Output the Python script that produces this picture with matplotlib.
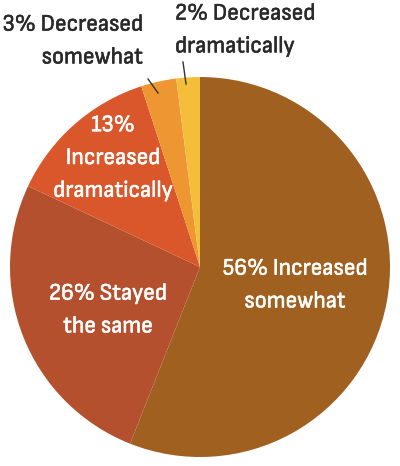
import matplotlib
matplotlib.use("Agg")
import matplotlib.pyplot as plt
import matplotlib.patheffects as pe

categories = ["Increased somewhat", "Stayed the same", "Increased dramatically",
              "Decreased somewhat", "Decreased dramatically"]
values = [56, 26, 13, 3, 2]
colors = ["#A0601F", "#B5502E", "#D9572B", "#EE9631", "#F5BE3A"]

plt.rcParams['font.family'] = ['Sofia Sans Semi Condensed', 'DejaVu Sans']

H = 466
fig = plt.figure(figsize=(4, 4.66), dpi=100)
ax = fig.add_axes([0, 0, 1, 1])

ax.pie(values, colors=colors, startangle=90, counterclock=False,
       center=(200, H - 267), radius=190, frame=True,
       wedgeprops=dict(linewidth=0))
ax.set_xlim(0, 400)
ax.set_ylim(0, H)
ax.axis('off')

fs = 17
def txt(x, y, s, color='white', ha='center'):
    ax.text(x, H - y, s, color=color, ha=ha, va='center', fontsize=fs,
            linespacing=1.8,
            path_effects=[pe.withStroke(linewidth=0.4, foreground=color)])

txt(295, 285, f"{values[0]}% Increased\nsomewhat")
txt(108, 310, f"{values[1]}% Stayed\nthe same")
txt(113, 158, f"{values[2]}%\nIncreased\ndramatically")
txt(143, 41, f"{values[3]}% Decreased\nsomewhat", color='#2a2a2a', ha='right')
txt(175, 30, f"{values[4]}% Decreased\ndramatically", color='#2a2a2a', ha='left')

ax.plot([148, 158], [H - 79, H - 93], color='#333333', lw=1)
ax.plot([183, 186], [H - 62, H - 84], color='#333333', lw=1)

fig.savefig("out.png", dpi=100)
